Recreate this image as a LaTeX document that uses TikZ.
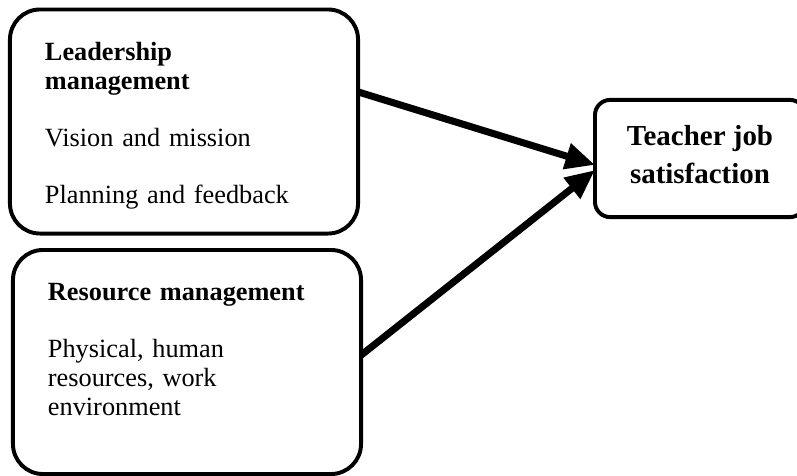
\documentclass[tikz,border=0pt]{standalone}
\usepackage{fontspec}
\setmainfont{Liberation Serif}
\usetikzlibrary{arrows.meta}
\usetikzlibrary{positioning}
\tikzset{
    factor/.style={
      rectangle,
      rounded corners=0.75cm,
      draw=black,
      line width=2.8pt,
      minimum width=8.7cm,
      minimum height=5.6cm,
      text width=6.95cm,
      align=left,
      outer sep=0pt,
      font=\fontsize{18.7}{20.6}\selectfont
    },
    outcome/.style={
      rectangle,
      rounded corners=0.38cm,
      draw=black,
      line width=2.8pt,
      minimum width=5.25cm,
      minimum height=2.93cm,
      align=center,
      outer sep=0pt,
      font=\fontsize{20.6}{27}\selectfont\bfseries
    },
    link/.style={
      line width=5pt,
      -{Triangle[length=21pt,width=18pt]}
    },
}

\begin{document}
\begin{tikzpicture}[x=0.025cm,y=-0.025cm]

    \useasboundingbox (0,0) rectangle (797,475);

    % input factors
    \node[factor] at (184,121.5) (lead) {\rule{0pt}{19pt}\textbf{Leadership}\\
      \textbf{management}\\[20pt]
      Vision and mission\\[20pt]
      Planning and feedback};
    \node[factor] at (187,362) (res) {\textbf{Resource management}\\[20pt]
      Physical, human\\
      resources, work\\
      environment\rule[-18.5pt]{0pt}{18.5pt}};

    % outcome
    \node[outcome] at (700,158.5) (sat) {Teacher job\\ satisfaction\rule[-6.4pt]{0pt}{6.4pt}};

    \draw[link] ([yshift=0.74cm]lead.east) -- ([yshift=-0.16cm]sat.west);
    \draw[link] ([yshift=0.17cm]res.east) -- ([yshift=-0.29cm]sat.west);

\end{tikzpicture}
\end{document}
